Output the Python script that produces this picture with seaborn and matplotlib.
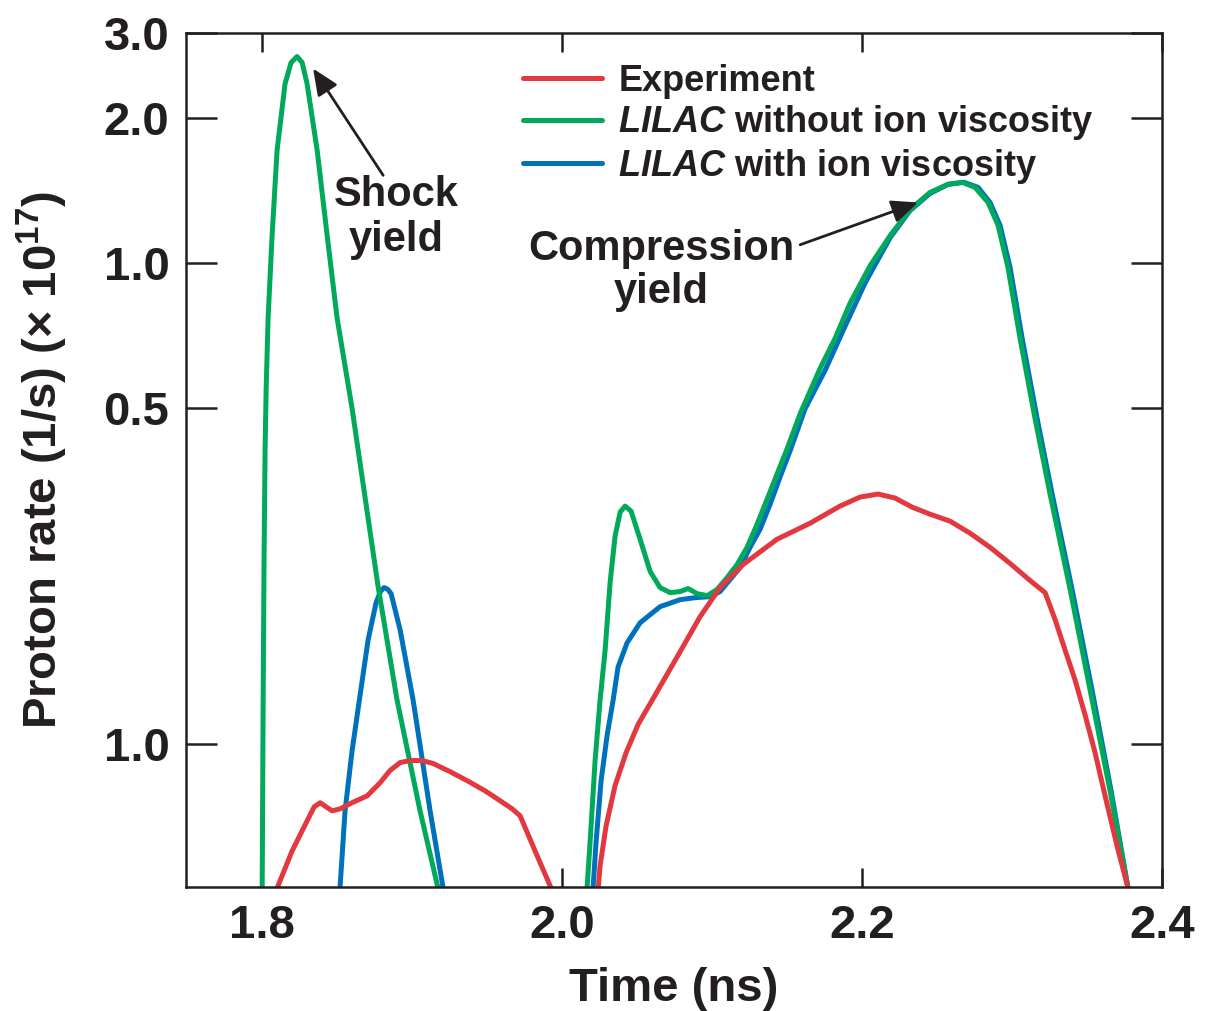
import numpy as np
import pandas as pd
import matplotlib
matplotlib.use('Agg')
import matplotlib.pyplot as plt
import seaborn as sns
from matplotlib.ticker import FixedLocator, FixedFormatter, NullLocator
from matplotlib.lines import Line2D

# ---------------- data (time in ns, proton rate in 1e17 1/s) ----------------
exp_t1 = [1.8087, 1.810, 1.820, 1.830, 1.8347, 1.8387, 1.8427, 1.8467, 1.852, 1.860, 1.870,
          1.8787, 1.8853, 1.892, 1.8987, 1.9067, 1.914, 1.9253, 1.9367, 1.9487, 1.9587,
          1.9667, 1.972, 1.982, 1.9927, 1.994]
exp_r1 = [0.047, 0.0503, 0.0601, 0.0694, 0.0742, 0.0757, 0.0742, 0.0728, 0.0735, 0.0757, 0.0782,
          0.0833, 0.0883, 0.0917, 0.0926, 0.0926, 0.0913, 0.0878, 0.0841, 0.0801, 0.0764,
          0.0735, 0.0711, 0.0601, 0.0503, 0.047]
exp_t2 = [2.0233, 2.0253, 2.0293, 2.0353, 2.0427, 2.0507, 2.060, 2.0767, 2.092, 2.1053, 2.1207,
          2.1433, 2.1653, 2.1853, 2.1987, 2.2107, 2.222, 2.2333, 2.2453, 2.2587, 2.272, 2.2853,
          2.2987, 2.312, 2.322, 2.3287, 2.3353, 2.342, 2.3487, 2.3553, 2.362, 2.370, 2.3773, 2.3793]
exp_r2 = [0.047, 0.0559, 0.0677, 0.0821, 0.0962, 0.1101, 0.1235, 0.152, 0.1842, 0.2117, 0.2364,
          0.2667, 0.2879, 0.3125, 0.3263, 0.331, 0.3247, 0.311, 0.3006, 0.2907, 0.2745, 0.2566,
          0.2375, 0.2189, 0.2066, 0.1815, 0.1571, 0.136, 0.115, 0.0962, 0.0782, 0.0615, 0.0503, 0.047]

nov_t1 = [1.800, 1.8007, 1.8013, 1.802, 1.8027, 1.804, 1.8067, 1.810, 1.8153, 1.8193, 1.8233,
          1.8267, 1.830, 1.8367, 1.8433, 1.850, 1.860, 1.8773, 1.890, 1.9053, 1.9173, 1.919]
nov_r1 = [0.047, 0.1235, 0.242, 0.411, 0.548, 0.768, 1.144, 1.713, 2.353, 2.603, 2.68,
          2.603, 2.353, 1.713, 1.144, 0.768, 0.498, 0.213, 0.1235, 0.0728, 0.0503, 0.047]
nov_t2 = [2.016, 2.0187, 2.022, 2.0253, 2.0287, 2.032, 2.0353, 2.0387, 2.042, 2.046, 2.052,
          2.0587, 2.0653, 2.072, 2.0787, 2.084, 2.090, 2.0967, 2.1033, 2.110, 2.1167, 2.1233,
          2.130, 2.1367, 2.1433, 2.150, 2.1587, 2.172, 2.182, 2.192, 2.2053, 2.2187, 2.232,
          2.2453, 2.2573, 2.2667, 2.2753, 2.284, 2.2907, 2.2973, 2.3053, 2.3153, 2.3253,
          2.3387, 2.352, 2.3653, 2.3773, 2.3793]
nov_r2 = [0.047, 0.063, 0.0926, 0.1235, 0.1571, 0.2168, 0.2705, 0.3036, 0.3125, 0.305, 0.2667,
          0.2286, 0.2117, 0.2066, 0.2077, 0.2107, 0.2056, 0.2037, 0.2097, 0.222, 0.2364, 0.2566,
          0.2866, 0.3231, 0.3643, 0.411, 0.486, 0.6036, 0.697, 0.825, 0.9856, 1.139, 1.290,
          1.400, 1.455, 1.469, 1.434, 1.334, 1.195, 0.976, 0.697, 0.4747, 0.331,
          0.2097, 0.1297, 0.0801, 0.0503, 0.047]

vis_t1 = [1.8513, 1.8553, 1.860, 1.8653, 1.8707, 1.876, 1.879, 1.8813, 1.8837, 1.886, 1.892,
          1.9007, 1.912, 1.9207, 1.922]
vis_r1 = [0.047, 0.0728, 0.0971, 0.1265, 0.165, 0.197, 0.208, 0.2117, 0.210, 0.2056, 0.173,
          0.1235, 0.0728, 0.0503, 0.047]
vis_t2 = [2.020, 2.0227, 2.026, 2.030, 2.034, 2.0373, 2.0433, 2.052, 2.0653, 2.0787, 2.0887,
          2.0987, 2.1053, 2.112, 2.1187, 2.1253, 2.132, 2.1387, 2.1453, 2.152, 2.162, 2.1753,
          2.1887, 2.202, 2.2187, 2.232, 2.2453, 2.2573, 2.268, 2.2773, 2.2853, 2.292, 2.2987,
          2.3067, 2.3167, 2.3267, 2.340, 2.3533, 2.366, 2.3773, 2.3787]
vis_r2 = [0.047, 0.063, 0.0841, 0.1044, 0.1235, 0.1448, 0.1625, 0.1789, 0.1932, 0.1998, 0.2017,
          0.2027, 0.2077, 0.220, 0.2331, 0.2566, 0.2798, 0.3155, 0.3591, 0.4071, 0.4981, 0.5978,
          0.7388, 0.9083, 1.128, 1.284, 1.393, 1.455, 1.469, 1.434, 1.334, 1.195, 0.976,
          0.697, 0.4747, 0.331, 0.2097, 0.1297, 0.0801, 0.0503, 0.047]

series_names = ["Experiment", "$LILAC$ without ion viscosity", "$LILAC$ with ion viscosity"]
series_colors = ["#e2383f", "#00a95c", "#0072bc"]
x_ticks = [1.8, 2.0, 2.2, 2.4]
x_ticklabels = ["1.8", "2.0", "2.2", "2.4"]
y_ticks = [3.0, 2.0, 1.0, 0.5, 0.1]
y_ticklabels = ["3.0", "2.0", "1.0", "0.5", "1.0"]

# ---------------- long table ----------------
rows = []
for name, segs in [(series_names[0], [(exp_t1, exp_r1), (exp_t2, exp_r2)]),
                   (series_names[1], [(nov_t1, nov_r1), (nov_t2, nov_r2)]),
                   (series_names[2], [(vis_t1, vis_r1), (vis_t2, vis_r2)])]:
    for k, (tt, rr) in enumerate(segs):
        for t, r in zip(tt, rr):
            rows.append({"time": t, "rate": r, "series": name, "segment": f"{name}-{k}"})
df = pd.DataFrame(rows)

# ---------------- style ----------------
sns.set_style("white")
INK = "#231f20"
plt.rcParams['font.family'] = ['Liberation Sans', 'DejaVu Sans']
plt.rcParams['font.weight'] = 'bold'
plt.rcParams['mathtext.fontset'] = 'custom'
plt.rcParams['mathtext.it'] = 'Liberation Sans:italic:bold'
plt.rcParams['mathtext.rm'] = 'Liberation Sans:bold'
plt.rcParams['mathtext.bf'] = 'Liberation Sans:bold'
plt.rcParams['mathtext.sf'] = 'Liberation Sans:bold'
plt.rcParams['text.color'] = INK

fig = plt.figure(figsize=(12.05, 10.11), dpi=100)
ax = fig.add_axes([0.1544, 0.1227, 0.8100, 0.8447])
ax.set_yscale('log')

LW = 3.6
pal = dict(zip(series_names, series_colors))
sns.lineplot(data=df, x="time", y="rate", hue="series", units="segment", estimator=None,
             hue_order=[series_names[2], series_names[1], series_names[0]],
             palette=pal, linewidth=LW, legend=False, ax=ax,
             solid_joinstyle='round', solid_capstyle='butt')

ax.set_xlim(1.7493, 2.4)
ax.set_ylim(0.0506, 3.0)

ax.xaxis.set_major_locator(FixedLocator(x_ticks))
ax.xaxis.set_major_formatter(FixedFormatter(x_ticklabels))
ax.yaxis.set_major_locator(FixedLocator(y_ticks))
ax.yaxis.set_major_formatter(FixedFormatter(y_ticklabels))
ax.yaxis.set_minor_locator(NullLocator())
ax.xaxis.set_minor_locator(NullLocator())

ax.tick_params(axis='x', which='major', direction='in', length=14, width=1.8,
               top=True, bottom=True, labelsize=34, pad=12, colors=INK)
ax.tick_params(axis='y', which='major', direction='in', length=22, width=1.8,
               left=True, right=True, labelsize=34, pad=12, colors=INK)
for lab in ax.get_xticklabels() + ax.get_yticklabels():
    lab.set_fontweight('bold')

for sp in ax.spines.values():
    sp.set_visible(True)
    sp.set_color(INK)
    sp.set_linewidth(1.8)

ax.set_xlabel("Time (ns)", fontsize=34, fontweight='bold', labelpad=14, color=INK)
ax.set_ylabel("Proton rate (1/s) (× 10$^{17}$)", fontsize=34, fontweight='bold',
              labelpad=24, color=INK)

handles = [Line2D([0], [0], color=c, lw=LW) for c in series_colors]
leg = ax.legend(handles, series_names, loc='upper left', bbox_to_anchor=(0.345, 0.964),
                frameon=False, fontsize=26, handlelength=2.2, handletextpad=0.45,
                labelspacing=0.13, borderpad=0, borderaxespad=0)
for t in leg.get_texts():
    t.set_color(INK)
    t.set_fontweight('bold')

# annotations
ax.text(1.8893, 1.241, "Shock\nyield", fontsize=30, fontweight='bold', ha='center',
        va='center', linespacing=1.15, color=INK)
ax.annotate('', xy=(1.834, 2.53), xytext=(1.8807, 1.519),
            arrowprops=dict(arrowstyle='-|>,head_length=0.8,head_width=0.35', color=INK,
                            lw=2, shrinkA=0, shrinkB=0, mutation_scale=20))
ax.text(2.066, 0.962, "Compression\nyield", fontsize=30, fontweight='bold', ha='center',
        va='center', linespacing=1.1, color=INK)
ax.annotate('', xy=(2.2373, 1.334), xytext=(2.1587, 1.090),
            arrowprops=dict(arrowstyle='-|>,head_length=0.8,head_width=0.35', color=INK,
                            lw=2, shrinkA=0, shrinkB=0, mutation_scale=20))

fig.savefig("out.png", dpi=100)
